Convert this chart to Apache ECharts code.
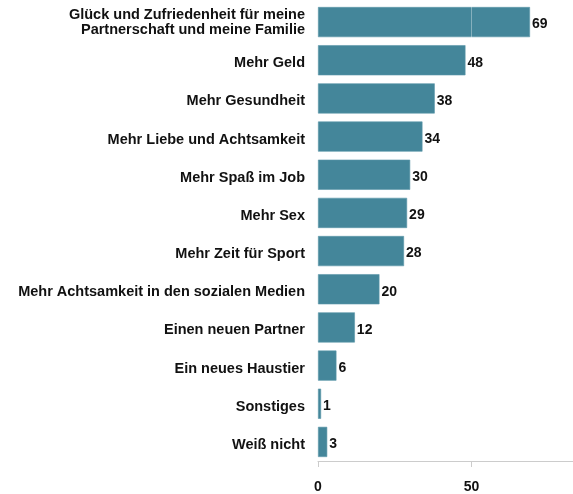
<!DOCTYPE html>
<html><head><meta charset="utf-8">
<script src="https://cdn.jsdelivr.net/npm/echarts@6/dist/echarts.min.js"></script>
<style>html,body{margin:0;padding:0;background:#fff}#c{width:573px;height:494px}</style>
</head><body><div id="c"></div>
<script>
const categories = [
  "Glück und Zufriedenheit für meine\nPartnerschaft und meine Familie",
  "Mehr Geld",
  "Mehr Gesundheit",
  "Mehr Liebe und Achtsamkeit",
  "Mehr Spaß im Job",
  "Mehr Sex",
  "Mehr Zeit für Sport",
  "Mehr Achtsamkeit in den sozialen Medien",
  "Einen neuen Partner",
  "Ein neues Haustier",
  "Sonstiges",
  "Weiß nicht"
];
const values = [69, 48, 38, 34, 30, 29, 28, 20, 12, 6, 1, 3];
const xTicks = [0, 50];

const FONT = 'Liberation Sans, Arial, sans-serif';
const base = {color: '#111', fontWeight: 'bold', fontSize: 14.5, fontFamily: FONT};
const chart = echarts.init(document.getElementById('c'), null, {renderer: 'canvas'});
chart.setOption({
  animation: false,
  grid: {left: 318, right: 0, top: 3, bottom: 33, containLabel: false},
  xAxis: {
    type: 'value', min: 0, max: 83,
    axisLine: {show: true, lineStyle: {color: '#cccccc'}},
    axisTick: {show: true, customValues: xTicks, length: 6, lineStyle: {color: '#cccccc'}},
    axisLabel: {customValues: xTicks, margin: 19, color: '#111', fontWeight: 'bold', fontSize: 14, fontFamily: FONT},
    splitLine: {show: false}
  },
  yAxis: {
    type: 'category', data: categories, inverse: true,
    axisLine: {show: false}, axisTick: {show: false},
    axisLabel: {
      margin: 13, align: 'right',
      formatter: v => {
        const lines = v.split('\n');
        if (lines.length === 1) return '{s|' + v + '}';
        return lines.map(l => '{a|' + l + '}').join('\n');
      },
      rich: {
        s: Object.assign({}, base, {lineHeight: 14, padding: [6, 0, 0, 0]}),
        a: Object.assign({}, base, {lineHeight: 15})
      }
    }
  },
  series: [{
    type: 'bar', data: values, barCategoryGap: '21%',
    itemStyle: {color: '#44869a', borderColor: '#5d97a9', borderWidth: 0.6},
    label: {show: true, position: 'right', distance: 2, offset: [0, 2.5], color: '#111', fontWeight: 'bold', fontSize: 14, fontFamily: FONT},
    markLine: {
      silent: true, symbol: 'none', label: {show: false},
      lineStyle: {color: 'rgba(255,255,255,0.35)', type: 'solid', width: 1},
      data: [{xAxis: 50}], z: 10
    }
  }]
});
</script></body></html>
